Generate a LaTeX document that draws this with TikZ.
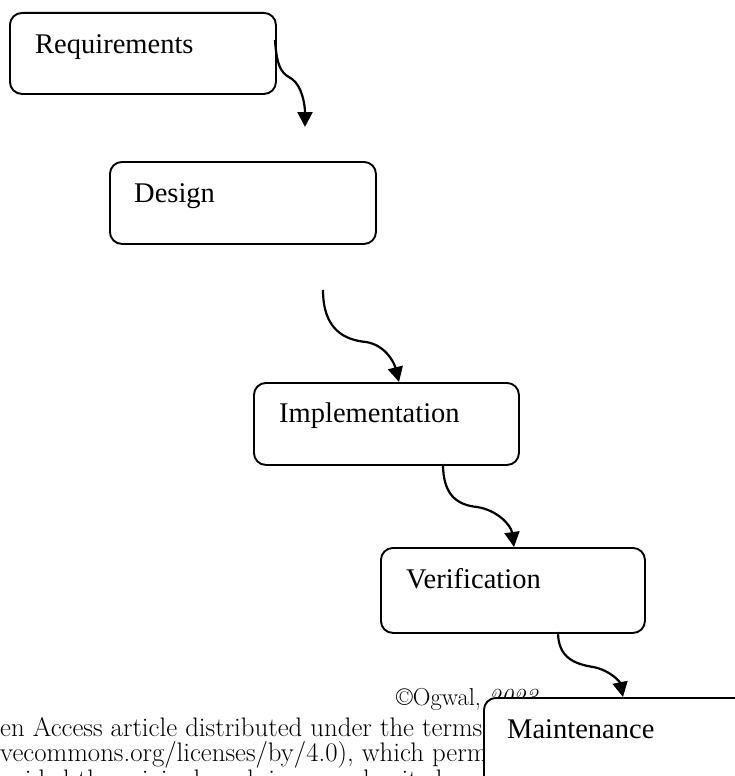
\documentclass[tikz,border=0pt]{standalone}
\usepackage{fontspec}
\setmainfont{Liberation Serif}
\newfontfamily\notefont{Latin Modern Roman}
\usetikzlibrary{arrows.meta}

\begin{document}
\begin{tikzpicture}[x=1pt,y=-1pt,
  stage/.style={draw=black, line width=1.9pt, rounded corners=12pt, fill=white,
                anchor=north west, inner sep=0pt},
  stagetext/.style={anchor=base west, inner sep=0pt, font=\fontsize{28.5}{34}\selectfont},
  note/.style={anchor=base west, inner sep=0pt, font=\notefont\fontsize{26.8}{25}\selectfont},
  flow/.style={line width=2.2pt, -{Triangle[width=15pt,length=15pt]}}]

\useasboundingbox (0,0) rectangle (734,776);
\fill[white] (0,0) rectangle (734,776);

% running text of the page underneath the chart
\node[note, font=\notefont\fontsize{24.5}{25}\selectfont] (copy) at (396,705)
  {\textcopyright Ogwal, \textit{2023}};
\node[note] (lineA) at (0,736) {en Access article distributed under the terms of the Creative Commons};
\node[note] (lineB) at (0,761) {vecommons.org/licenses/by/4.0), which permits unrestricted use,};
\node[note] (lineC) at (0,788) {ovided the original work is properly cited.};

% stage boxes
\node[stage, minimum width=266pt, minimum height=81pt] (req)  at (9,12)   {};
\node[stage, minimum width=266pt, minimum height=82pt] (des)  at (109,161) {};
\node[stage, minimum width=265pt, minimum height=82pt] (imp)  at (253,382) {};
\node[stage, minimum width=264pt, minimum height=85pt] (ver)  at (380,547) {};
\node[stage, minimum width=330pt, minimum height=150pt] (mai) at (483,697) {};

\node[stagetext] (reqt) at (35,53)  {Requirements};
\node[stagetext] (dest) at (134,202) {Design};
\node[stagetext] (impt) at (279,422) {Implementation};
\node[stagetext] (vert) at (406,588) {Verification};
\node[stagetext] (mait) at (507,738) {Maintenance};

% connector end points
\coordinate (a1s) at (275,40);
\coordinate (a1e) at (305,127);
\coordinate (a2s) at (323,290);
\coordinate (a2e) at (399,382);
\coordinate (a3s) at (443,464);
\coordinate (a3e) at (514,547);
\coordinate (a4s) at (558,632);
\coordinate (a4e) at (623,697);

% wavy connectors
\draw[flow] (a1s) .. controls (277,72) and (284,74) .. (292,79)
                  .. controls (302,86) and (305,105) .. (a1e);
\draw[flow] (a2s) .. controls (323,330) and (345,340) .. (366,342)
                  .. controls (385,345) and (394,362) .. (a2e);
\draw[flow] (a3s) .. controls (443,496) and (458,505) .. (477,507)
                  .. controls (497,510) and (511,525) .. (a3e);
\draw[flow] (a4s) .. controls (558,658) and (575,664) .. (593,667)
                  .. controls (610,670) and (620,682) .. (a4e);
\end{tikzpicture}
\end{document}
